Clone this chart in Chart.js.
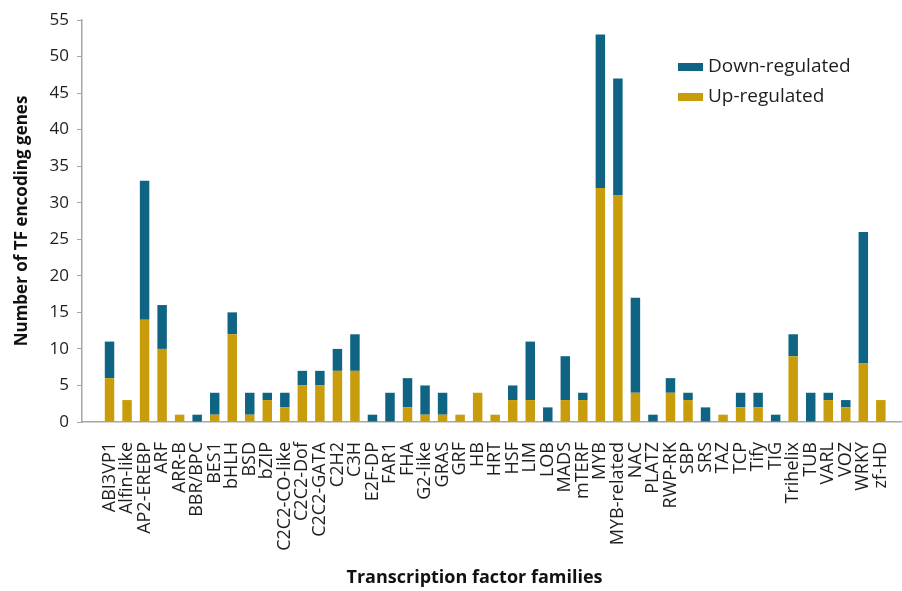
<!DOCTYPE html>
<html>
<head>
<meta charset="utf-8">
<script src="https://cdn.jsdelivr.net/npm/chart.js@4/dist/chart.umd.min.js"></script>
<style>
  html, body { margin: 0; padding: 0; background: #ffffff; }
  #wrap { width: 902px; height: 591px; position: relative; }
</style>
</head>
<body>
<div id="wrap"><canvas id="c" width="902" height="591"></canvas></div>
<script>
// Transcription factor families
const families = [
  'ABI3VP1', 'Alfin-like', 'AP2-EREBP', 'ARF', 'ARR-B', 'BBR/BPC', 'BES1', 'bHLH', 'BSD', 'bZIP',
  'C2C2-CO-like', 'C2C2-Dof', 'C2C2-GATA', 'C2H2', 'C3H', 'E2F-DP', 'FAR1', 'FHA', 'G2-like', 'GRAS',
  'GRF', 'HB', 'HRT', 'HSF', 'LIM', 'LOB', 'MADS', 'mTERF', 'MYB', 'MYB-related',
  'NAC', 'PLATZ', 'RWP-RK', 'SBP', 'SRS', 'TAZ', 'TCP', 'Tify', 'TIG', 'Trihelix',
  'TUB', 'VARL', 'VOZ', 'WRKY', 'zf-HD'
];

// Up-regulated genes per family
const upRegulated = [
  6, 3, 14, 10, 1, 0, 1, 12, 1, 3,
  2, 5, 5, 7, 7, 0, 0, 2, 1, 1,
  1, 4, 1, 3, 3, 0, 3, 3, 32, 31,
  4, 0, 4, 3, 0, 1, 2, 2, 0, 9,
  0, 3, 2, 8, 3
];

// Down-regulated genes per family
const downRegulated = [
  5, 0, 19, 6, 0, 1, 3, 3, 3, 1,
  2, 2, 2, 3, 5, 1, 4, 4, 4, 3,
  0, 0, 0, 2, 8, 2, 6, 1, 21, 16,
  13, 1, 2, 1, 2, 0, 2, 2, 1, 3,
  4, 1, 1, 18, 0
];

const yTicks = [0, 5, 10, 15, 20, 25, 30, 35, 40, 45, 50, 55];

const UP_COLOR = '#c99c0b';
const DOWN_COLOR = '#0f6383';
const TEXT_COLOR = '#1e1e1e';
const AXIS_COLOR = '#a6a6a6';
const FONT = "'Open Sans', 'DejaVu Sans', sans-serif";

const toPoints = arr => arr.map((v, i) => ({ x: i, y: v }));

// Legend drawn inside the plot, top right, down-regulated first
const insideLegend = {
  id: 'insideLegend',
  afterDraw(chart) {
    const { ctx, chartArea } = chart;
    const items = chart.data.datasets.slice().reverse();
    const x0 = chartArea.right - 223;
    let y = chartArea.top + 47;
    ctx.save();
    ctx.font = `19px ${FONT}`;
    ctx.textBaseline = 'middle';
    ctx.textAlign = 'left';
    items.forEach(ds => {
      ctx.fillStyle = ds.backgroundColor;
      ctx.fillRect(x0, y - 4, 25, 8);
      ctx.fillStyle = TEXT_COLOR;
      ctx.fillText(ds.label, x0 + 30, y);
      y += 30;
    });
    ctx.restore();
  }
};

// Category axis title under the rotated family names
const xAxisTitle = {
  id: 'xAxisTitle',
  afterDraw(chart) {
    const { ctx, chartArea, height } = chart;
    ctx.save();
    ctx.font = `bold 18px ${FONT}`;
    ctx.fillStyle = '#111111';
    ctx.textAlign = 'center';
    ctx.textBaseline = 'middle';
    ctx.fillText('Transcription factor families', (chartArea.left + chartArea.right) / 2 - 17, height - 13);
    ctx.restore();
  }
};

new Chart(document.getElementById('c'), {
  type: 'bar',
  data: {
    datasets: [
      { label: 'Up-regulated', data: toPoints(upRegulated), backgroundColor: UP_COLOR },
      { label: 'Down-regulated', data: toPoints(downRegulated), backgroundColor: DOWN_COLOR }
    ]
  },
  options: {
    responsive: false,
    animation: false,
    devicePixelRatio: 1,
    layout: { padding: { top: 20, right: 1, left: 0, bottom: 0 } },
    datasets: { bar: { categoryPercentage: 1, barPercentage: 0.54 } },
    plugins: { legend: { display: false }, tooltip: { enabled: false } },
    scales: {
      x: {
        type: 'linear',
        stacked: true,
        offset: false,
        min: -1.57,
        max: 45.15,
        afterBuildTicks: s => { s.ticks = families.map((_, i) => ({ value: i })); },
        afterFit: s => { s.height = 169; s.paddingLeft = 0; s.paddingRight = 0; },
        grid: { display: false },
        border: { display: true, color: AXIS_COLOR, width: 1.5 },
        ticks: {
          autoSkip: false,
          minRotation: 90,
          maxRotation: 90,
          padding: 12,
          color: TEXT_COLOR,
          font: { family: FONT, size: 18 },
          callback: v => families[v] ?? ''
        }
      },
      y: {
        stacked: true,
        min: 0,
        max: 55,
        afterBuildTicks: s => { s.ticks = yTicks.map(v => ({ value: v })); },
        afterFit: s => { s.width = 82; },
        grid: { display: true, drawOnChartArea: false, drawTicks: true, tickLength: 5, color: AXIS_COLOR, lineWidth: 1 },
        border: { display: true, color: AXIS_COLOR, width: 1.5 },
        ticks: {
          padding: 8,
          color: TEXT_COLOR,
          font: { family: FONT, size: 17 }
        },
        title: {
          display: true,
          text: 'Number of TF encoding genes',
          color: '#111111',
          font: { family: FONT, size: 17, weight: 'bold' },
          padding: { top: 12, bottom: 0 }
        }
      }
    }
  },
  plugins: [insideLegend, xAxisTitle]
});
</script>
</body>
</html>
